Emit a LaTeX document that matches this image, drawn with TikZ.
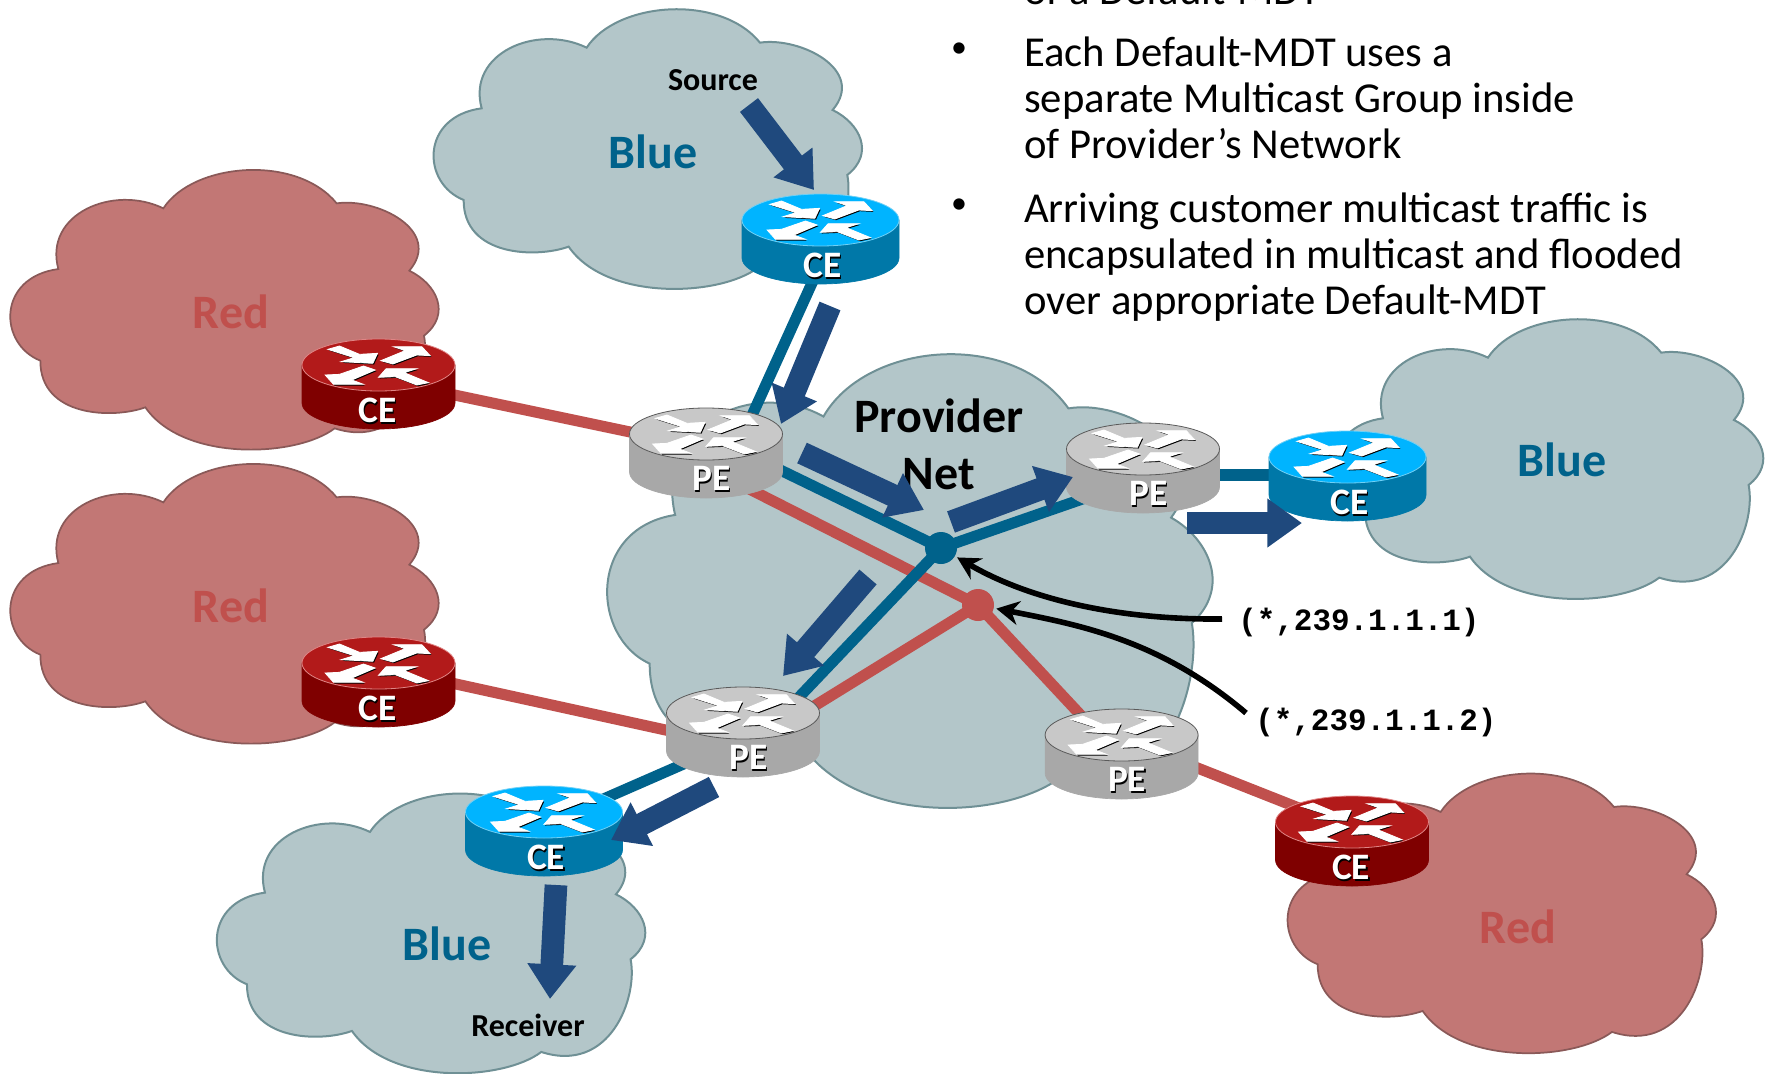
\documentclass[tikz,border=0pt]{standalone}
\usepackage{fontspec}
\setmainfont{Carlito}
\newfontfamily\groupfont{Liberation Mono}
\usetikzlibrary{arrows.meta}

\definecolor{cloudblue}{HTML}{B3C6C9}
\definecolor{cloudblueedge}{HTML}{6F9095}
\definecolor{cloudred}{HTML}{C27775}
\definecolor{cloudrededge}{HTML}{8A5958}
\definecolor{linkblue}{HTML}{00628B}
\definecolor{linkred}{HTML}{C0504D}
\definecolor{flowblue}{HTML}{1F497D}
\definecolor{bluetop}{HTML}{00B4FF}
\definecolor{blueside}{HTML}{0078A8}
\definecolor{blueedge}{HTML}{70D0F5}
\definecolor{redtop}{HTML}{B21A1A}
\definecolor{redside}{HTML}{7F0000}
\definecolor{rededge}{HTML}{E08585}
\definecolor{greytop}{HTML}{C8C8C8}
\definecolor{greyside}{HTML}{A8A8A8}
\definecolor{greyedge}{HTML}{5A5A5A}

\newcommand{\cloudshape}{(185,325) .. controls (140,160) and (350,70) .. (500,143)
  .. controls (590,5) and (900,-20) .. (1020,128)
  .. controls (1140,110) and (1340,210) .. (1238,330)
  .. controls (1320,370) and (1365,460) .. (1282,525)
  .. controls (1305,640) and (1220,870) .. (1014,803)
  .. controls (900,890) and (560,905) .. (446,740)
  .. controls (350,775) and (130,770) .. (131,600)
  .. controls (5,550) and (0,350) .. (185,325) -- cycle}
\newcommand{\routerarrows}{(-152,-47) -- (-73,-22) -- (-112,-10) -- (-17,-5) -- (-3,-35) -- (-57,-32) -- (-117,-57) -- cycle
  (7,-13) -- (80,-43) -- (45,-55) -- (130,-55) -- (155,-28) -- (115,-30) -- (43,-3) -- cycle
  (-160,30) -- (-135,58) -- (-45,58) -- (-80,45) -- (-10,15) -- (-45,3) -- (-117,28) -- cycle
  (0,37) -- (23,11) -- (115,11) -- (77,23) -- (150,53) -- (115,60) -- (50,35) -- cycle}

\tikzset{
  bluecloud/.style={fill=cloudblue,draw=cloudblueedge,line width=1.5pt},
  redcloud/.style={fill=cloudred,draw=cloudrededge,line width=1.3pt},
  bluelink/.style={draw=linkblue,line width=8.3pt},
  redlink/.style={draw=linkred,line width=8.3pt},
  flowarrow/.style={draw=flowblue,line width=17pt,-{Triangle[length=26pt,width=35pt,fill=flowblue]}},
  grouparrow/.style={draw=black,line width=4.2pt,-{Stealth[length=17pt,width=18pt]}},
  routerspot/.style={minimum width=114.75pt,minimum height=66pt,inner sep=0pt},
  junction/.style={circle,minimum size=24pt,inner sep=0pt,outer sep=2pt},
  routerlabel/.style={font=\fontsize{28}{29}\bfseries,text=white,inner sep=0pt},
  cloudlabel/.style={font=\fontsize{36}{38}\bfseries,inner sep=0pt},
  hostlabel/.style={font=\fontsize{24}{25}\bfseries,inner sep=0pt},
  grouplabel/.style={font=\fontsize{23.2}{25}\groupfont\bfseries,inner sep=0pt,anchor=west},
  notetext/.style={font=\fontsize{32}{34.5}\selectfont,inner sep=0pt,anchor=north west,align=left},
  notebullet/.style={font=\fontsize{24}{25}\selectfont,inner sep=0pt}
}

\begin{document}
\begin{tikzpicture}[x=0.75pt,y=0.75pt,yscale=-1]
\useasboundingbox (0,0) rectangle (1768,1074);

%Shape: Cloud
\draw [bluecloud,shift={(420,0)},scale=0.3333] \cloudshape ;
\draw [redcloud,shift={(-3.3,160.7)},scale=0.3333] \cloudshape ;
\draw [redcloud,shift={(-3.3,454.7)},scale=0.3333] \cloudshape ;
\draw [bluecloud,shift={(203.3,784.3)},scale=0.3333] \cloudshape ;
\draw [redcloud,shift={(1274,764.3)},scale=0.3333] \cloudshape ;
\draw [bluecloud,shift={(1321.3,310)},scale=0.3333] \cloudshape ;
\draw [bluecloud,shift={(588,339.2)},xscale=0.4710,yscale=0.5407] \cloudshape ;

% Text Node
\node [cloudlabel,text=linkblue] (blueTop) at (653,152) {Blue};
\node [cloudlabel,text=linkblue] (blueRight) at (1562,460) {Blue};
\node [cloudlabel,text=linkblue] (blueLow) at (447,944) {Blue};
\node [cloudlabel,text=linkred] (redOne) at (231,312) {Red};
\node [cloudlabel,text=linkred] (redTwo) at (231,606) {Red};
\node [cloudlabel,text=linkred] (redThree) at (1518,927) {Red};
\node [cloudlabel] (provider) at (939,416) {Provider};
\node [cloudlabel] (net) at (939,474) {Net};
\node [hostlabel] (source) at (713,80) {Source};
\node [hostlabel] (receiver) at (528,1025) {Receiver};

\node [notetext] (noteZero) at (1024,-25) {of a Default-MDT};
\node [notebullet] (bulletOne) at (959,50) {•};
\node [notetext] (noteOne) at (1024,37) {Each Default-MDT uses a\\separate Multicast Group inside\\of Provider’s Network};
\node [notebullet] (bulletTwo) at (959,206) {•};
\node [notetext] (noteTwo) at (1024,193) {Arriving customer multicast traffic is\\encapsulated in multicast and flooded\\over appropriate Default-MDT};
\node [grouplabel] (groupOne) at (1238,622) {(*,239.1.1.1)};
\node [grouplabel] (groupTwo) at (1255,722) {(*,239.1.1.2)};

%Shape: Router spots
\foreach \nm/\cx/\cy in {ceTop/820.5/239,ceRight/1347.5/476,ceLow/544/831,ceRedA/378.5/384,ceRedB/378.5/682,ceRedC/1352/841,peA/706/453,peB/1143/468,peC/743/732,peD/1121.6/754}
  \node [routerspot] (\nm) at (\cx,\cy) {};

\node [junction] (mdtBlue) at (941,548) {};
\node [junction] (mdtRed) at (978,605) {};

%Straight Lines
\draw [redlink] ([yshift=-3.75pt]ceRedA.center) -- ([yshift=-3.75pt]peA.center) ;
\draw [redlink] ([yshift=-11.25pt]ceRedB.center) -- ([yshift=11.25pt]peC.center) ;
\draw [redlink] ([yshift=10.5pt]peA.center) -- (mdtRed.center) ;
\draw [redlink] ([yshift=13.5pt]peC.center) -- (mdtRed.center) ;
\draw [redlink] ([yshift=3.75pt]peD.center) -- (mdtRed.center) ;
\draw [redlink] ([yshift=-12pt]peD.center) -- ([yshift=-9pt]ceRedC.center) ;
\draw [bluelink] ([xshift=8.6pt]ceTop.center) -- ([xshift=21.7pt]peA.center) ;
\draw [bluelink] ([yshift=-14.25pt]peA.center) -- (mdtBlue.center) ;
\draw [bluelink] ([yshift=7.5pt]peB.center) -- (mdtBlue.center) ;
\draw [bluelink] ([yshift=18pt]peC.center) -- (mdtBlue.center) ;
\draw [bluelink] ([yshift=4.5pt]peC.center) -- ([yshift=-4.5pt]ceLow.center) ;
\draw [bluelink] ([yshift=5.25pt]peB.center) -- ([yshift=-0.75pt]ceRight.center) ;

\fill [linkblue] (mdtBlue) circle (16) ;
\fill [linkred] (mdtRed) circle (16) ;

%Shape: Router
\foreach \nm/\ttop/\tside/\tedge/\tr/\tx/\ty/\tlab in {ceTop/bluetop/blueside/blueedge/78.5/2/27.5/CE,ceRight/bluetop/blueside/blueedge/78.5/2/27.5/CE,ceLow/bluetop/blueside/blueedge/78.5/2/27.5/CE,ceRedA/redtop/redside/rededge/76.5/-1/27.5/CE,ceRedB/redtop/redside/rededge/76.5/-1/27.5/CE,ceRedC/redtop/redside/rededge/76.5/-1/27.5/CE,peA/greytop/greyside/greyedge/76.5/5.5/26.5/PE,peB/greytop/greyside/greyedge/76.5/5.5/26.5/PE,peC/greytop/greyside/greyedge/76.5/5.5/26.5/PE,peD/greytop/greyside/greyedge/76.5/5.5/26.5/PE}
{
  \begin{scope}[shift={(\nm.center)}]
    \draw [fill=\tside,draw=\tside,line width=0.5pt] (-\tr,-19) -- (-\tr,19) arc [start angle=180,end angle=0,x radius=\tr,y radius=26] -- (\tr,-19) -- cycle ;
    \draw [fill=\ttop,draw=\tedge,line width=0.6pt] (0,-19) ellipse [x radius=\tr,y radius=26] ;
    \begin{scope}[shift={(0,-19)}]
      \fill [black,shift={(1.2,1.2)},scale=0.3333] \routerarrows ;
      \filldraw [white,line width=0.6pt,scale=0.3333] \routerarrows ;
    \end{scope}
    \node [routerlabel] (\nm label) at (\tx,\ty) {\llap{\rlap{\raisebox{-1pt}{\hspace{1pt}\textcolor{black}{\tlab}}}}\tlab};
  \end{scope}
}

%Arrows
\foreach \nm/\ax/\ay/\bx/\by in {src/749/105/814/190,toPe/830/306/781/424,toCore/802/453/924/510,toEgress/951/522/1073/477,toCe/1187/523/1302/523,toLow/868/577/783/676,toRecv/714/787/611/840,down/556/885/550/999}
{
  \coordinate (\nm Tail) at (\ax,\ay);
  \coordinate (\nm Tip) at (\bx,\by);
  \draw [flowarrow] (\nm Tail) -- (\nm Tip) ;
}

%Curve Lines
\coordinate (groupOneEnd) at (1222,619);
\coordinate (groupTwoEnd) at (1246,713);
\draw [grouparrow] (groupOneEnd) .. controls (1120,620) and (1030,600) .. (mdtBlue) ;
\draw [grouparrow] (groupTwoEnd) .. controls (1160,640) and (1080,625) .. (mdtRed) ;

\end{tikzpicture}
\end{document}
